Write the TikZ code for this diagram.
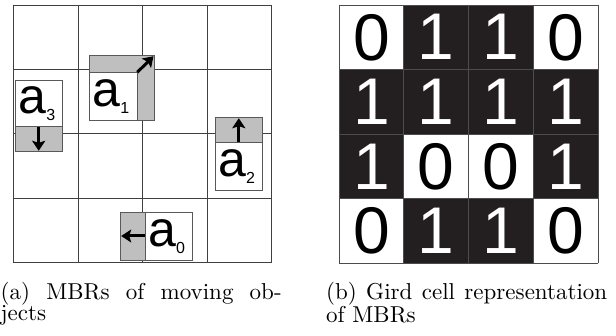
\documentclass[tikz,border=0pt]{standalone}
\usepackage{fontspec}
\newfontfamily\arialf{Liberation Sans}
\newfontfamily\capfont{lmroman10-regular}[Extension=.otf]
\usetikzlibrary{arrows.meta}
\definecolor{cellblack}{HTML}{231F20}
\newcommand\mbrsub[1]{\raisebox{-7pt}{\fontsize{16}{16}\selectfont #1}}
\tikzset{
  gridline/.style={draw=black!75, line width=0.9pt},
  cellline/.style={draw=black!70, line width=0.7pt},
  mbrgray/.style={fill=black!25, draw=black!65, line width=0.8pt},
  mbrwhite/.style={fill=white, draw=black!65, line width=0.8pt},
  movearrow/.style={line width=3pt, -{Stealth[length=10pt,width=13pt,inset=2pt]}},
  lab/.style={inner sep=0pt, anchor=base west, font=\arialf\fontsize{50}{50}\selectfont},
  digit/.style={inner sep=0pt, font=\arialf\fontsize{66}{66}\selectfont},
  capt/.style={inner sep=0pt, anchor=north west, text width=281pt, align=justify,
    font=\capfont\fontsize{23}{21.5}\selectfont},
}
\begin{document}
\begin{tikzpicture}[x=1pt,y=-1pt]
\useasboundingbox (0,0) rectangle (616,336);
% ---------- left: MBRs ----------
\foreach \x in {13,78,142,207,271} \draw[gridline] (\x,5) -- (\x,262.7);
\foreach \y in {5,69,133,198,262.7} \draw[gridline] (13,\y) -- (271,\y);
% a1
\draw[mbrgray] (89.3,55.7) rectangle (154,120);
\draw[mbrwhite] (89.3,72.3) rectangle (137.3,120);
\node[lab] (a1) at (92.3,106.5) {a\mbrsub{1}};
\coordinate (a1s) at (137.3,72.3);
\coordinate (a1e) at (153.5,56.2);
\draw[movearrow] (a1s) -- (a1e);
% a3
\draw[mbrgray] (15.3,80) rectangle (62,151.3);
\draw[mbrwhite] (15.3,80) rectangle (62,126.7);
\node[lab] (a3) at (18.3,113.2) {a\mbrsub{3}};
\coordinate (a3s) at (38.7,126.7);
\coordinate (a3e) at (38.7,150.8);
\draw[movearrow] (a3s) -- (a3e);
% a2
\draw[mbrgray] (215,117.7) rectangle (262.5,190);
\draw[mbrwhite] (215,142) rectangle (262.5,190);
\node[lab] (a2) at (218,177) {a\mbrsub{2}};
\coordinate (a2s) at (238.8,142);
\coordinate (a2e) at (238.8,118.2);
\draw[movearrow] (a2s) -- (a2e);
% a0
\draw[mbrgray] (120.7,212.3) rectangle (192.5,260);
\draw[mbrwhite] (145,212.3) rectangle (192.5,260);
\node[lab] (a0) at (148,247) {a\mbrsub{0}};
\coordinate (a0s) at (145,236);
\coordinate (a0e) at (121.2,236);
\draw[movearrow] (a0s) -- (a0e);
% ---------- right: grid cells ----------
\foreach \r/\vals in {0/{0,1,1,0},1/{1,1,1,1},2/{1,0,0,1},3/{0,1,1,0}} {
  \foreach \v [count=\c from 0] in \vals {
    \pgfmathsetmacro\xl{339+64.75*\c}
    \pgfmathsetmacro\yt{5+64.5*\r}
    \ifnum\v=1
      \fill[cellblack] (\xl,\yt) rectangle ++(64.75,64.5);
      \node[digit, text=white] (d\r\c) at (\xl+32.4,\yt+32.3) {\v};
    \else
      \node[digit, text=black] (d\r\c) at (\xl+32.4,\yt+32.3) {\v};
    \fi
  }
}
\foreach \x in {339,403.75,468.5,533.25,598} \draw[cellline] (\x,5) -- (\x,263);
\foreach \y in {5,69.5,134,198.5,263} \draw[cellline] (339,\y) -- (598,\y);
% ---------- captions ----------
\node[capt] (capa) at (0.5,282) {(a) MBRs of moving ob-\linebreak jects};
\node[capt] (capb) at (326,282) {(b) Gird cell representation\linebreak of MBRs};
\end{tikzpicture}
\end{document}
